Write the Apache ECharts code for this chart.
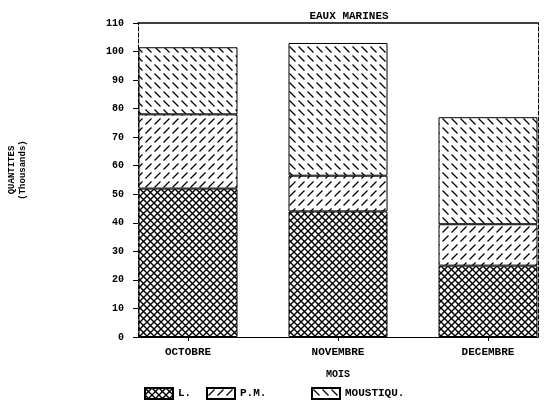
<!DOCTYPE html>
<html>
<head>
<meta charset="utf-8">
<script src="https://cdn.jsdelivr.net/npm/echarts@6/dist/echarts.min.js"></script>
<style>html,body{margin:0;padding:0;background:#fff}#c{width:550px;height:410px}</style>
</head>
<body>
<div id="c"></div>
<script>
// ---- data ----
var categories = ['OCTOBRE', 'NOVEMBRE', 'DECEMBRE'];
var seriesNames = ['L.', 'P.M.', 'MOUSTIQU.'];
var valuesL = [52, 44, 25];
var valuesPM = [26, 12.5, 14.5];
var valuesMoustiq = [23.5, 46.5, 37.5];
var yTicks = [0, 10, 20, 30, 40, 50, 60, 70, 80, 90, 100, 110];
var slotOf = [1, 4, 7]; // slot index of each month on the 9-slot axis
var FONT = '"Liberation Mono", "DejaVu Sans Mono", monospace';

// ---- patterns ----
function tile(w, h, draw) {
  var c = document.createElement('canvas');
  c.width = w; c.height = h;
  var g = c.getContext('2d');
  g.fillStyle = '#fff'; g.fillRect(0, 0, w, h);
  g.strokeStyle = '#000'; g.lineWidth = 1.3; g.lineCap = 'butt';
  draw(g);
  return { image: c, repeat: 'repeat' };
}
var patL = tile(7, 7, function (g) {
  g.lineWidth = 1.4;
  g.beginPath();
  g.moveTo(0, 0); g.lineTo(7, 7);
  g.moveTo(0, 7); g.lineTo(7, 0);
  g.stroke();
});
var patPM = tile(9, 9, function (g) {
  g.beginPath();
  g.moveTo(1.5, 7.5); g.lineTo(7.5, 1.5);
  g.stroke();
});
var patM = tile(9, 9, function (g) {
  g.beginPath();
  g.moveTo(1.5, 1.5); g.lineTo(7.5, 7.5);
  g.stroke();
});
var patterns = [patL, patPM, patM];

// ---- build slot arrays ----
var slots = [];
for (var i = 0; i < 9; i++) slots.push('');
categories.forEach(function (c, k) { slots[slotOf[k]] = c; });
function toSlots(vals) {
  var a = [];
  for (var i = 0; i < 9; i++) a.push('-');
  vals.forEach(function (v, k) { a[slotOf[k]] = v; });
  return a;
}
var allVals = [valuesL, valuesPM, valuesMoustiq];

var series = seriesNames.map(function (n, k) {
  return {
    name: n, type: 'bar', stack: 'tot', barWidth: 99,
    data: toSlots(allVals[k]),
    itemStyle: { color: patterns[k], borderColor: '#000', borderWidth: 1 },
    emphasis: { disabled: true }
  };
});

function legendAt(name, left) {
  return {
    data: [name], left: left, top: 382, itemWidth: 28, itemHeight: 11, itemGap: 0,
    icon: 'rect', selectedMode: false,
    textStyle: { fontFamily: FONT, fontWeight: 'bold', fontSize: 11, color: '#000' }
  };
}

var chart = echarts.init(document.getElementById('c'), null, { renderer: 'canvas' });
chart.setOption({
  animation: false,
  backgroundColor: '#fff',
  title: {
    text: 'EAUX MARINES', left: 344, top: 6, textAlign: 'center',
    textStyle: { fontFamily: FONT, fontWeight: 'bold', fontSize: 11, color: '#000' }
  },
  legend: [legendAt('L.', 139), legendAt('P.M.', 201), legendAt('MOUSTIQU.', 306)],
  grid: { left: 138, right: 12, top: 23, bottom: 73 },
  xAxis: [{
    type: 'category', data: slots, boundaryGap: false, position: 'bottom',
    name: 'MOIS', nameLocation: 'middle', nameGap: 32,
    nameTextStyle: { fontFamily: FONT, fontWeight: 'bold', fontSize: 10, color: '#000' },
    axisLine: { onZero: false, lineStyle: { color: '#000', width: 1.2 } },
    axisTick: { show: true, length: 4, lineStyle: { color: '#000' },
      interval: function (idx, v) { return v !== ''; } },
    axisLabel: { interval: function (idx, v) { return v !== ''; }, margin: 10,
      fontFamily: FONT, fontWeight: 'bold', fontSize: 11, color: '#000' },
    splitLine: { show: false }
  }, {
    type: 'category', data: slots, boundaryGap: false, position: 'top',
    axisLine: { onZero: false, lineStyle: { color: '#000', width: 1.5 } },
    axisTick: { show: false }, axisLabel: { show: false }
  }],
  yAxis: [{
    type: 'value', min: 0, max: 110, interval: 10, position: 'left',
    axisLine: { show: true, onZero: false, lineStyle: { color: '#000', type: [4, 2] } },
    axisTick: { show: true, length: 5, lineStyle: { color: '#000' } },
    axisLabel: { margin: 14, fontFamily: FONT, fontWeight: 'bold', fontSize: 10, color: '#000',
      formatter: function (v) { return yTicks.indexOf(v) >= 0 ? String(v) : ''; } },
    splitLine: { show: false }
  }, {
    type: 'value', min: 0, max: 110, interval: 10, position: 'right',
    axisLine: { show: true, onZero: false, lineStyle: { color: '#000', type: [4, 2] } },
    axisTick: { show: false }, axisLabel: { show: false }, splitLine: { show: false }
  }],
  graphic: [{
    type: 'text', x: 17, y: 170, rotation: Math.PI / 2,
    style: { text: 'QUANTITES\n(Thousands)', fontFamily: FONT, fontWeight: 'bold', fontSize: 9,
      lineHeight: 11, fill: '#000', align: 'center', verticalAlign: 'middle' }
  }],
  series: series
});
</script>
</body>
</html>
